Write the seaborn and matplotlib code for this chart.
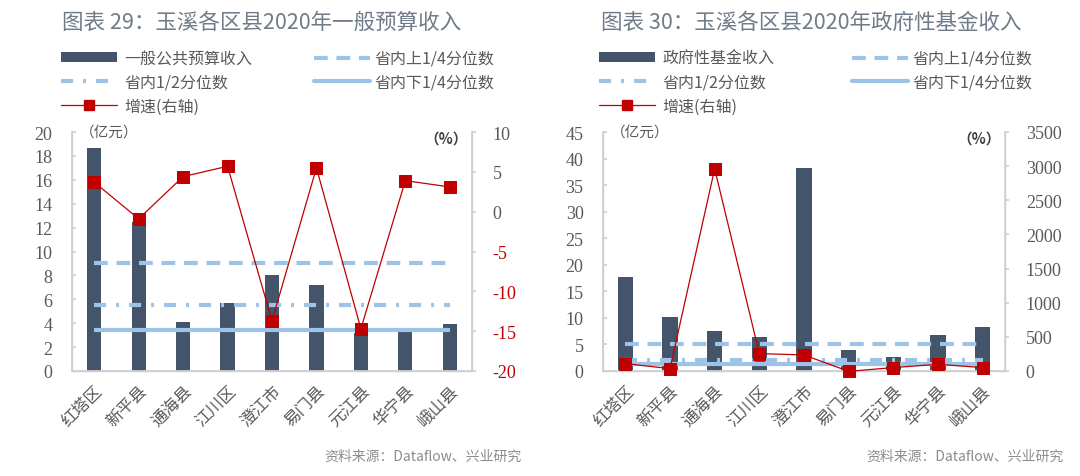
import numpy as np
import pandas as pd
import matplotlib
matplotlib.use("Agg")
import matplotlib.pyplot as plt
from matplotlib.lines import Line2D
from matplotlib.patches import Patch
import seaborn as sns

# ---------------- data ----------------
districts = ["红塔区", "新平县", "通海县", "江川区", "澄江市", "易门县", "元江县", "华宁县", "峨山县"]

general_budget = [18.7, 12.5, 4.1, 5.7, 8.0, 7.2, 3.2, 3.3, 3.9]          # 亿元
general_growth = [3.7, -0.9, 4.4, 5.7, -13.7, 5.5, -14.7, 3.9, 3.1]       # %
general_q_upper = 9.0
general_q_median = 5.5
general_q_lower = 3.45

fund_income = [17.7, 10.2, 7.5, 6.4, 38.2, 3.9, 2.6, 6.7, 8.2]            # 亿元
fund_growth = [108, 35, 2960, 255, 235, -5, 50, 98, 50]                   # %
fund_q_upper = 5.0
fund_q_median = 2.1
fund_q_lower = 1.3

titles = ["图表 29：玉溪各区县2020年一般预算收入", "图表 30：玉溪各区县2020年政府性基金收入"]
bar_labels = ["一般公共预算收入", "政府性基金收入"]
left_ticks = [np.arange(0, 21, 2), np.arange(0, 46, 5)]
right_ticks = [np.arange(-20, 11, 5), np.arange(0, 3501, 500)]
source = "资料来源：Dataflow、兴业研究"

# ---------------- style ----------------
sns.set_theme(style="white")
plt.rcParams['font.family'] = ['Noto Sans CJK SC', 'DejaVu Sans']
plt.rcParams['axes.unicode_minus'] = False

BAR = "#44546a"
QCOL = "#9dc3e6"
RED = "#c00000"
GRAY = "#595959"
AXC = "#d0d0d0"
TITLE = "#6f7b88"
NUMFONT = 'Liberation Serif'

DASH = (0, (3.3, 2.1))
DASHDOT = (0, (2.9, 2.4, 0.7, 2.4))

fig = plt.figure(figsize=(10.8, 4.77), dpi=100)

W, H = 1080.0, 477.0
TOP, BOT = 133, 372
panels = [
    dict(x0=72, w=400, budget=general_budget, growth=general_growth,
         q=(general_q_upper, general_q_median, general_q_lower), bw=0.32,
         ylim=(0, 20), y2lim=(-20, 10), title_x=62, leg_x=61, src_x=522),
    dict(x0=603, w=402, budget=fund_income, growth=fund_growth,
         q=(fund_q_upper, fund_q_median, fund_q_lower), bw=0.35,
         ylim=(0, 45), y2lim=(0, 3500), title_x=601, leg_x=599, src_x=1064),
]

for i, p in enumerate(panels):
    ax = fig.add_axes([p["x0"] / W, (H - BOT) / H, p["w"] / W, (BOT - TOP) / H])
    df = pd.DataFrame({"区县": districts, "值": p["budget"]})
    sns.barplot(data=df, x="区县", y="值", ax=ax, color=BAR, width=p["bw"],
                saturation=1, zorder=2)
    for b in ax.patches:
        b.set_edgecolor("none")
    n = len(districts)
    qu, qm, ql = p["q"]
    ax.hlines(qu, 0, n - 1, colors=QCOL, linewidth=3.0, linestyles=DASH, zorder=3)
    ax.hlines(qm, 0, n - 1, colors=QCOL, linewidth=3.0, linestyles=DASHDOT, zorder=3)
    ax.hlines(ql, 0, n - 1, colors=QCOL, linewidth=3.0, linestyles="solid", zorder=3)

    ax.set_xlim(-0.5, n - 0.5)
    ax.set_ylim(*p["ylim"])
    ax.set_yticks(left_ticks[i])
    ax.set_xlabel("")
    ax.set_ylabel("")
    ax.set_xticks(np.arange(n))
    ax.set_xticklabels(districts, rotation=45, ha="right", rotation_mode="anchor",
                       fontsize=12, color=GRAY)
    ax.set_xticks(np.arange(n + 1) - 0.5, minor=True)
    ax.tick_params(axis="x", which="major", length=0, pad=8)
    ax.tick_params(axis="x", which="minor", length=3, color=AXC, direction="in")
    ax.tick_params(axis="y", length=3, color=AXC, direction="in", pad=14,
                   labelsize=13, labelcolor=GRAY, labelfontfamily=NUMFONT)
    ax.spines["top"].set_visible(False)
    for s in ["left", "right", "bottom"]:
        ax.spines[s].set_color(AXC)
        ax.spines[s].set_linewidth(1.0)
    ax.text(0.02, 1.0, "（亿元）", transform=ax.transAxes, ha="left", va="center",
            fontsize=10.5, color=GRAY)

    ax2 = ax.twinx()
    sns.lineplot(x=np.arange(n), y=p["growth"], ax=ax2, color=RED, linewidth=0.9,
                 marker="s", markersize=8.5, markeredgecolor=RED, markerfacecolor=RED,
                 zorder=5, clip_on=False)
    ax2.set_ylim(*p["y2lim"])
    ax2.set_yticks(right_ticks[i])
    ax2.set_ylabel("")
    ax2.spines["top"].set_visible(False)
    for s in ["left", "right", "bottom"]:
        ax2.spines[s].set_color(AXC)
    ax2.tick_params(axis="y", length=3, color=AXC, direction="out", pad=12,
                    labelsize=13, labelfontfamily=NUMFONT)
    for t, lab in zip(right_ticks[i], ax2.get_yticklabels()):
        lab.set_color(RED if t < 0 else GRAY)
    ax2.text(0.99, 0.975, "（%）", transform=ax2.transAxes, ha="right", va="center",
             fontsize=10.5, color="#404040", fontweight="bold")

    # title
    fig.text(p["title_x"] / W, 1 - 23 / H, titles[i], ha="left", va="center",
             fontsize=15.5, color=TITLE)

    # legends
    h_bar = Patch(facecolor=BAR, edgecolor="none")
    h_med = Line2D([], [], color=QCOL, lw=3.0, ls=DASHDOT)
    h_gr = Line2D([], [], color=RED, lw=0.9, marker="s", markersize=7.5)
    h_up = Line2D([], [], color=QCOL, lw=3.0, ls=DASH)
    h_lo = Line2D([], [], color=QCOL, lw=3.0)
    kw = dict(loc="upper left", frameon=False, fontsize=11.5, handlelength=3.5,
              handleheight=0.6, labelspacing=0.42, borderpad=0, borderaxespad=0,
              labelcolor=GRAY)
    fig.legend([h_bar, h_med, h_gr], [bar_labels[i], "省内1/2分位数", "增速(右轴)"],
               bbox_to_anchor=(p["leg_x"] / W, 1 - 51 / H), handletextpad=0.45, **kw)
    fig.legend([h_up, h_lo], ["省内上1/4分位数", "省内下1/4分位数"],
               bbox_to_anchor=((p["leg_x"] + 253) / W, 1 - 51 / H), handletextpad=0.3, **kw)

    fig.text(p["src_x"] / W, 1 - 457 / H, source, ha="right", va="center",
             fontsize=10, color="#8c8c8c")

fig.savefig("out.png", dpi=100, facecolor="white")
